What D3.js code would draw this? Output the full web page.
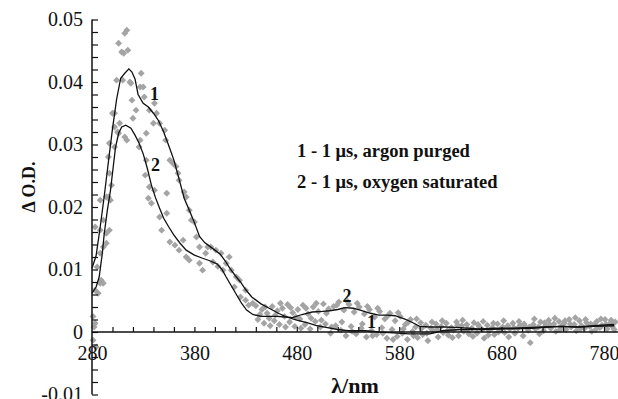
<!DOCTYPE html>
<html>
<head>
<meta charset="utf-8">
<script src="https://cdn.jsdelivr.net/npm/d3@7"></script>
<style>
  body { margin: 0; background: #fff; }
  svg text { font-family: "Liberation Serif", "Times New Roman", "DejaVu Serif", serif; fill: #111; }
</style>
</head>
<body>
<div id="chart"></div>
<script>
// transient absorption spectra, 1 us after the pulse
const argonNm = [280, 284, 288, 292, 296, 300, 304, 308, 312, 316, 319, 322, 325, 330, 335, 340, 345, 350, 355, 360, 365, 370, 375, 380, 385, 390, 395, 400, 405, 410, 415, 420, 425, 430, 436, 445, 453, 462, 470, 480, 490, 500, 510, 520, 530, 547, 560, 570, 590, 610, 622, 640, 660, 690, 710, 725, 740, 755, 770, 790];
const argonOD = [0.0102, 0.0122, 0.0168, 0.0218, 0.0272, 0.0325, 0.0372, 0.0406, 0.0414, 0.0421, 0.0416, 0.0405, 0.0380, 0.0366, 0.0360, 0.0350, 0.0338, 0.0320, 0.0298, 0.0275, 0.0245, 0.0214, 0.0195, 0.0175, 0.0153, 0.0143, 0.0137, 0.0131, 0.0125, 0.0114, 0.0101, 0.0090, 0.0080, 0.0068, 0.0056, 0.0045, 0.0038, 0.0030, 0.0024, 0.0019, 0.0015, 0.0010, 0.0007, 0.0004, 0.0002, 0.0002, 0.0000, -0.0001, -0.0003, -0.0003, 0.0002, 0.0004, 0.0004, 0.0005, 0.0006, 0.0008, 0.0009, 0.0008, 0.0010, 0.0012];

const oxygenNm = [280, 284, 287, 290, 292, 295, 298, 301, 303, 306, 309, 313, 318, 322, 326, 330, 334, 338, 342, 346, 350, 355, 360, 366, 372, 380, 388, 395, 402, 407, 411, 416, 421, 426, 431, 437, 445, 460, 470, 476, 485, 495, 505, 512, 520, 527, 535, 542, 552, 560, 568, 576, 585, 592, 600, 610, 625, 640, 657, 675, 690, 705, 722, 738, 754, 770, 790];
const oxygenOD = [0.0062, 0.0072, 0.0088, 0.0125, 0.0158, 0.0195, 0.0226, 0.0268, 0.0296, 0.0318, 0.0328, 0.0331, 0.0326, 0.0315, 0.0302, 0.0285, 0.0262, 0.0235, 0.0215, 0.0198, 0.0182, 0.0168, 0.0155, 0.0142, 0.0131, 0.0123, 0.0118, 0.0114, 0.0109, 0.0100, 0.0088, 0.0074, 0.0060, 0.0046, 0.0035, 0.0028, 0.0025, 0.0025, 0.0024, 0.0023, 0.0028, 0.0032, 0.0033, 0.0034, 0.0036, 0.0039, 0.0038, 0.0035, 0.0030, 0.0027, 0.0027, 0.0026, 0.0021, 0.0016, 0.0009, 0.0008, 0.0008, 0.0007, 0.0005, 0.0006, 0.0006, 0.0007, 0.0008, 0.0009, 0.0008, 0.0009, 0.0010];

// measured points of both spectra (grey diamonds)
const points = [
  [281, 0.0025], [281, -0.0013], [282, 0.0008], [283, 0.0014], [284, -0.0024], [283, 0.0067], [285, 0.0104], [286, 0.0062],
  [288, 0.0078], [289, 0.0083], [283, 0.0168], [288, 0.0163], [288, 0.0126], [288, 0.0211], [291, 0.0179], [291, 0.0136],
  [291, 0.0078], [294, 0.0158], [294, 0.0142], [294, 0.0216], [296, 0.0216], [296, 0.0280], [297, 0.0163], [297, 0.0302],
  [298, 0.0211], [297, 0.0254], [299, 0.0235], [300, 0.0350], [302, 0.0350], [302, 0.0328], [302, 0.0296], [304, 0.0403],
  [305, 0.0320], [306, 0.0318], [306, 0.0462], [307, 0.0334], [309, 0.0448], [310, 0.0403], [312, 0.0478], [312, 0.0312],
  [311, 0.0446], [314, 0.0483], [314, 0.0307], [315, 0.0451], [317, 0.0400], [318, 0.0398], [319, 0.0371], [320, 0.0342],
  [323, 0.0355], [327, 0.0392], [327, 0.0307], [326, 0.0296], [328, 0.0414], [330, 0.0392], [331, 0.0376], [332, 0.0251],
  [333, 0.0318], [333, 0.0275], [335, 0.0214], [336, 0.0355], [336, 0.0232], [338, 0.0206], [340, 0.0334], [341, 0.0366],
  [341, 0.0227], [343, 0.0350], [346, 0.0334], [346, 0.0184], [348, 0.0163], [351, 0.0323], [352, 0.0307], [353, 0.0190],
  [353, 0.0222], [356, 0.0275], [356, 0.0144], [359, 0.0270], [361, 0.0139], [362, 0.0265], [364, 0.0254], [365, 0.0243],
  [365, 0.0131], [369, 0.0147], [370, 0.0224], [372, 0.0216], [372, 0.0120], [375, 0.0195], [375, 0.0115], [377, 0.0179],
  [380, 0.0176], [382, 0.0152], [385, 0.0136], [385, 0.0110], [388, 0.0099], [391, 0.0126], [393, 0.0136], [396, 0.0136],
  [398, 0.0112], [401, 0.0131], [403, 0.0105], [406, 0.0126], [408, 0.0099], [411, 0.0110], [414, 0.0120], [416, 0.0099],
  [419, 0.0072], [421, 0.0088], [424, 0.0083], [425, 0.0056], [430, 0.0067], [430, 0.0051], [433, 0.0043], [437, 0.0046],
  [440, 0.0042], [442, 0.0020], [446, 0.0036], [448, 0.0014], [451, 0.0030], [453, 0.0022], [456, 0.0041], [458, 0.0018],
  [461, 0.0034], [463, 0.0012], [466, 0.0038], [468, 0.0025], [471, 0.0044], [473, 0.0016], [476, 0.0031], [478, 0.0009],
  [481, 0.0036], [483, 0.0021], [486, 0.0043], [488, 0.0012], [491, 0.0029], [493, 0.0005], [496, 0.0040], [498, 0.0017],
  [501, 0.0033], [503, 0.0008], [506, 0.0045], [508, 0.0013], [511, 0.0037], [513, -0.0002], [516, 0.0041], [518, 0.0010],
  [521, 0.0048], [523, 0.0003], [526, 0.0035], [528, -0.0006], [531, 0.0044], [533, 0.0009], [536, 0.0032], [538, -0.0003],
  [541, 0.0040], [543, 0.0006], [546, 0.0029], [548, -0.0008], [551, 0.0036], [553, 0.0002], [556, 0.0024], [558, -0.0004],
  [561, 0.0033], [563, 0.0007], [566, 0.0021], [568, -0.0010], [571, 0.0030], [573, 0.0004], [576, 0.0018], [578, -0.0007],
  [581, 0.0025], [583, -0.0002], [586, 0.0012], [588, -0.0012], [591, 0.0020], [593, 0.0001], [596, 0.0008], [598, -0.0009],
  [601, 0.0015], [603, -0.0004], [606, 0.0011], [608, -0.0014], [611, 0.0006], [613, 0.0002], [616, 0.0013], [618, -0.0008],
  [621, 0.0009], [623, -0.0001], [626, 0.0014], [628, -0.0005], [631, 0.0007], [633, 0.0003], [636, 0.0016], [638, -0.0006],
  [641, 0.0010], [643, 0.0001], [646, 0.0012], [648, -0.0003], [651, 0.0006], [653, 0.0015], [656, -0.0002], [658, 0.0009],
  [661, 0.0004], [663, -0.0010], [666, 0.0011], [668, 0.0002], [671, 0.0007], [673, -0.0004], [676, 0.0013], [678, 0.0003],
  [681, 0.0008], [683, -0.0001], [686, 0.0010], [688, 0.0005], [691, 0.0014], [693, -0.0002], [696, 0.0006], [698, 0.0011],
  [701, -0.0006], [703, 0.0009], [706, 0.0003], [708, -0.0017], [711, 0.0012], [713, 0.0005], [716, 0.0008], [718, 0.0016],
  [721, 0.0002], [723, 0.0010], [726, 0.0019], [728, 0.0006], [731, 0.0013], [733, 0.0001], [736, 0.0017], [738, 0.0009],
  [741, 0.0014], [743, 0.0004], [746, 0.0020], [748, 0.0008], [751, 0.0012], [753, 0.0002], [756, 0.0018], [758, 0.0010],
  [761, 0.0006], [763, 0.0015], [766, 0.0009], [768, 0.0001], [771, 0.0013], [773, 0.0017], [776, 0.0007], [778, 0.0011],
  [781, 0.0020], [783, 0.0005], [786, 0.0014], [788, 0.0009], [791, 0.0016],
  [444, 0.0028], [449, 0.0040], [454, 0.0010], [459, 0.0027], [464, 0.0046], [469, 0.0008], [474, 0.0039], [479, 0.0024],
  [484, 0.0006], [489, 0.0038], [494, 0.0022], [499, 0.0046], [504, 0.0019], [509, 0.0030], [514, 0.0008], [519, 0.0043],
  [524, 0.0016], [529, 0.0050], [534, 0.0001], [539, 0.0046], [544, 0.0013], [549, 0.0041], [554, -0.0006], [559, 0.0038],
  [564, -0.0002], [569, 0.0026], [574, -0.0012], [579, 0.0031], [584, 0.0005], [589, 0.0016], [594, -0.0006], [597, 0.0021],
  [602, 0.0006], [607, -0.0002], [612, 0.0016], [617, 0.0004], [622, 0.0018], [627, 0.0002], [632, -0.0009], [637, 0.0011],
  [642, 0.0019], [647, 0.0005], [652, -0.0007], [657, 0.0012], [662, 0.0017], [667, -0.0005], [672, 0.0014], [677, 0.0000],
  [682, 0.0018], [687, -0.0008], [692, 0.0007], [697, 0.0017], [702, 0.0013], [707, 0.0008], [712, 0.0021], [717, -0.0003],
  [722, 0.0015], [727, 0.0012], [732, 0.0022], [737, 0.0004], [742, 0.0018], [747, 0.0013], [752, 0.0023], [757, 0.0005],
  [762, 0.0020], [767, 0.0013], [772, 0.0004], [777, 0.0021], [782, 0.0012], [787, 0.0019], [790, 0.0004]
];

const xLabelTicks = [280, 380, 480, 580, 680, 780];
const yLabelTicks = [-0.01, 0, 0.01, 0.02, 0.03, 0.04, 0.05];
const legendLines = ["1 - 1 \u03bcs, argon purged", "2 - 1 \u03bcs, oxygen saturated"];

const width = 618, height = 399;

const svg = d3.select('#chart').append('svg')
  .attr('width', width)
  .attr('height', height);

const x = d3.scaleLinear().domain([280, 780]).range([92, 604]);
const y = d3.scaleLinear().domain([-0.01, 0.05]).range([394.5, 19.5]);

// scatter first so the lines sit on top
const diamond = d3.symbol(d3.symbolSquare, 24);
svg.append('g')
  .selectAll('path')
  .data(points)
  .enter().append('path')
  .attr('d', diamond)
  .attr('transform', d => `translate(${x(d[0])},${y(d[1])}) rotate(45)`)
  .attr('fill', '#a4a4a4');

const line = d3.line()
  .x(d => x(d[0]))
  .y(d => y(d[1]));

[[argonNm, argonOD], [oxygenNm, oxygenOD]].forEach(([nm, od]) => {
  svg.append('path')
    .datum(nm.map((v, i) => [v, od[i]]))
    .attr('d', line)
    .attr('fill', 'none')
    .attr('stroke', '#111')
    .attr('stroke-width', 1.3);
});

// y axis: minor ticks every 0.002
svg.append('g')
  .attr('transform', `translate(${x(280)},0)`)
  .call(d3.axisLeft(y).tickValues(d3.range(-0.01, 0.0501, 0.002)).tickSize(-6).tickFormat(''))
  .call(g => g.select('.domain').remove())
  .call(g => g.selectAll('line').attr('stroke', '#111').attr('stroke-width', 1.2));

svg.append('g')
  .attr('transform', `translate(${x(280)},0)`)
  .call(d3.axisLeft(y).tickValues(yLabelTicks).tickSize(0).tickPadding(9)
    .tickFormat(d => d === 0 ? '0' : d.toFixed(2)))
  .call(g => g.select('.domain').remove())
  .call(g => g.attr('font-family', null))
  .call(g => g.selectAll('text').attr('font-size', 20));

svg.append('line')
  .attr('x1', x(280)).attr('x2', x(280))
  .attr('y1', y(0.05)).attr('y2', y(-0.01))
  .attr('stroke', '#111').attr('stroke-width', 1.5);

// x axis at zero: minor ticks every 20 nm pointing up
svg.append('g')
  .attr('transform', `translate(0,${y(0)})`)
  .call(d3.axisBottom(x).tickValues(d3.range(300, 801, 20)).tickSize(-5).tickFormat(''))
  .call(g => g.select('.domain').remove())
  .call(g => g.selectAll('line').attr('stroke', '#111').attr('stroke-width', 1.2));

svg.append('g')
  .attr('transform', `translate(0,${y(0)})`)
  .call(d3.axisBottom(x).tickValues(xLabelTicks).tickSize(0).tickPadding(14))
  .call(g => g.select('.domain').remove())
  .call(g => g.attr('font-family', null))
  .call(g => g.selectAll('text').attr('font-size', 20));

svg.append('line')
  .attr('x1', x(280)).attr('x2', width)
  .attr('y1', y(0)).attr('y2', y(0))
  .attr('stroke', '#111').attr('stroke-width', 1.5);

// axis titles
svg.append('text')
  .attr('transform', 'translate(35,187) rotate(-90)')
  .attr('text-anchor', 'middle')
  .attr('font-size', 18)
  .attr('font-weight', 'bold')
  .text('\u0394 O.D.');

svg.append('text')
  .attr('x', 355).attr('y', 393)
  .attr('text-anchor', 'middle')
  .attr('font-size', 22)
  .attr('font-weight', 'bold')
  .text('\u03bb/nm');

// curve numbers
const curveTags = [['1', 341, 0.0372], ['2', 342, 0.0257], ['2', 529, 0.0048], ['1', 553, 0.0007]];
svg.append('g')
  .selectAll('text')
  .data(curveTags)
  .enter().append('text')
  .attr('x', d => x(d[1]))
  .attr('y', d => y(d[2]))
  .attr('text-anchor', 'middle')
  .attr('font-size', 18)
  .attr('font-weight', 'bold')
  .text(d => d[0]);

svg.append('g')
  .selectAll('text')
  .data(legendLines)
  .enter().append('text')
  .attr('x', 297)
  .attr('y', (d, i) => 157 + i * 31)
  .attr('font-size', 18.5)
  .attr('font-weight', 'bold')
  .text(d => d);
</script>
</body>
</html>
